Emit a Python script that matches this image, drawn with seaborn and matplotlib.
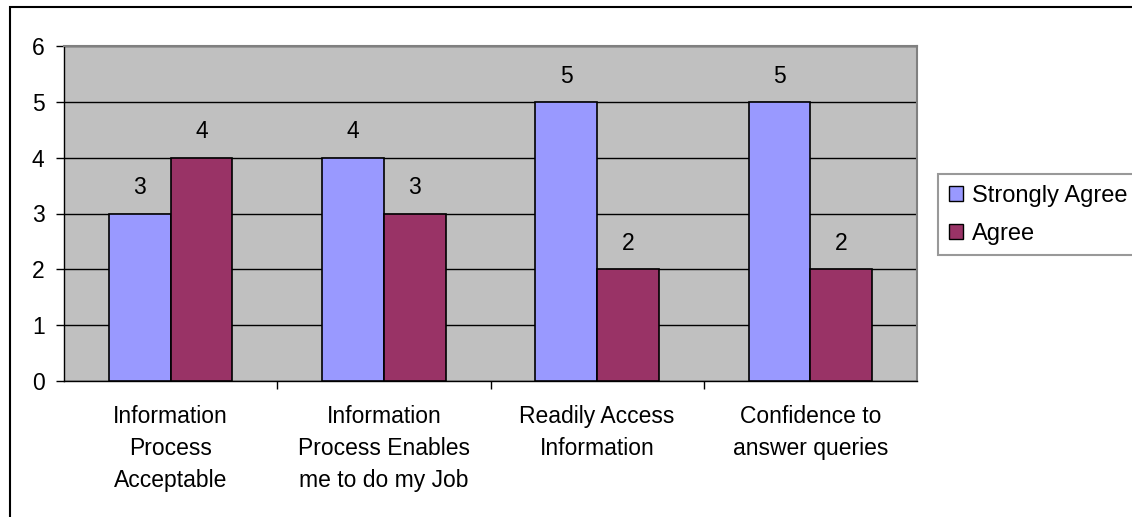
import matplotlib
matplotlib.use("Agg")
import matplotlib.pyplot as plt
import seaborn as sns
import pandas as pd
from matplotlib.patches import Rectangle

categories = ["Information\nProcess\nAcceptable",
              "Information\nProcess Enables\nme to do my Job",
              "Readily Access\nInformation",
              "Confidence to\nanswer queries"]
series_names = ["Strongly Agree", "Agree"]
strongly_agree = [3, 4, 5, 5]
agree = [4, 3, 2, 2]
colors = ["#9999FF", "#993366"]

df = pd.DataFrame({
    "Category": categories * 2,
    "Series": [series_names[0]] * 4 + [series_names[1]] * 4,
    "Value": strongly_agree + agree,
})

sns.set_theme(style="white")
plt.rcParams["font.family"] = ["Liberation Sans", "DejaVu Sans"]
for k in ["text.color", "axes.labelcolor", "xtick.color", "ytick.color"]:
    plt.rcParams[k] = "black"

FS = 16.5

fig = plt.figure(figsize=(11.32, 5.17), dpi=100)
ax = fig.add_axes([64/1132, 1-381/517, (917-64)/1132, (381-46)/517])

sns.barplot(data=df, x="Category", y="Value", hue="Series", palette=colors,
            width=0.58, edgecolor="black", linewidth=1.2, saturation=1,
            ax=ax, zorder=3)

ax.set_facecolor("#C0C0C0")
ax.set_ylim(0, 6)
ax.set_xlim(-0.5, 3.5)
ax.set_yticks(range(0, 7))
ax.yaxis.grid(True, color="black", linewidth=1)
ax.set_axisbelow(True)
ax.set_xlabel("")
ax.set_ylabel("")
for s in ["top", "right"]:
    ax.spines[s].set_color("#808080")
    ax.spines[s].set_linewidth(1.5)
for s in ["left", "bottom"]:
    ax.spines[s].set_color("black")
    ax.spines[s].set_linewidth(1)

ax.tick_params(axis="y", which="both", left=True, length=6, width=1, color="black",
               labelsize=FS, pad=8)
ax.set_xticks([0, 1, 2, 3])
ax.set_xticklabels(categories, fontsize=FS, linespacing=1.5)
ax.tick_params(axis="x", which="major", bottom=False, pad=11.5)
ax.set_xticks([0.5, 1.5, 2.5], minor=True)
ax.tick_params(axis="x", which="minor", bottom=True, length=6, width=1, color="black")

for cont in ax.containers:
    for bar in cont:
        h = bar.get_height()
        ax.annotate(f"{h:g}", (bar.get_x() + bar.get_width()/2, h),
                    xytext=(0, 18.5), textcoords="offset points",
                    ha="center", va="center", fontsize=FS)

ax.get_legend().remove()
handles = [Rectangle((0, 0), 1, 1, facecolor=c, edgecolor="black", linewidth=1) for c in colors]
leg = fig.legend(handles, series_names, loc="upper left",
                 bbox_to_anchor=(938/1132, 1-174/517), fontsize=17,
                 frameon=True, fancybox=False, edgecolor="#808080",
                 handlelength=0.6, handleheight=0.6, handletextpad=0.4,
                 borderpad=0.45, labelspacing=0.68, borderaxespad=0)
leg.get_frame().set_linewidth(1.5)

fig.patches.append(Rectangle((10/1132, -0.1), 1.2, 1 - 7/517 + 0.1,
                             transform=fig.transFigure, fill=False,
                             edgecolor="black", linewidth=1.5))

fig.savefig("out.png", dpi=100)
